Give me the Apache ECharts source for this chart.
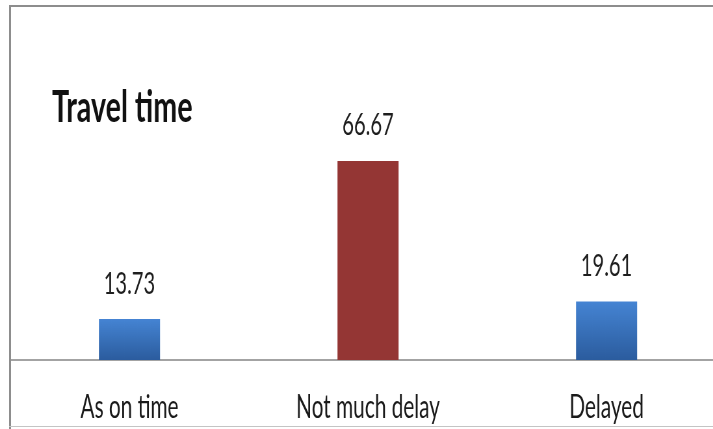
<!DOCTYPE html>
<html>
<head>
<meta charset="utf-8">
<script src="https://cdn.jsdelivr.net/npm/echarts@6/dist/echarts.min.js"></script>
<style>
  html, body { margin: 0; padding: 0; background: #ffffff; overflow: hidden; }
  #wrap {
    width: 713px; height: 429px; overflow: hidden; position: relative;
    background: #ffffff;
  }
  /* the chart is laid out wide and then squeezed horizontally, giving the tall narrow lettering */
  #chart { position: absolute; left: 0; top: 0; width: 1130px; height: 429px; transform: scaleX(0.65); transform-origin: 0 0; }
  /* plot frame: open on the right, as the chart area runs past the page edge */
  .edge { position: absolute; pointer-events: none; }
  #edgeTop { left: 9px; top: 5px; width: 704px; height: 2px; background: #8d8d8d; }
  #edgeLeft { left: 9px; top: 5px; width: 2px; height: 424px; background: #8d8d8d; }
  #edgeBottom { left: 9px; top: 426px; width: 704px; height: 1px; background: #c4c4c4; }
</style>
</head>
<body>
<div id="wrap">
  <div id="chart"></div>
  <div class="edge" id="edgeTop"></div>
  <div class="edge" id="edgeLeft"></div>
  <div class="edge" id="edgeBottom"></div>
</div>
<script>
const categories = ['As on time', 'Not much delay', 'Delayed'];
const values = [13.73, 66.67, 19.61];
const titleText = 'Travel time';

const blueFill = new echarts.graphic.LinearGradient(0, 0, 0, 1, [
  { offset: 0, color: '#4584d3' },
  { offset: 1, color: '#2b5c9e' }
]);
const redFill = '#943634';
const barColors = [blueFill, redFill, blueFill];

const chart = echarts.init(document.getElementById('chart'), null, { renderer: 'canvas' });

chart.setOption({
  animation: false,
  title: {
    text: titleText,
    left: 75,
    top: 81,
    textStyle: { fontFamily: 'Lato', fontWeight: 'bold', fontSize: 44, color: '#111111' }
  },
  grid: { left: 15.7, width: 1101, top: 61.5, bottom: 69, outerBoundsMode: 'none' },
  xAxis: {
    type: 'category',
    data: categories,
    axisLine: { show: true, lineStyle: { color: '#858585', width: 1.5 } },
    axisTick: { show: false },
    axisLabel: { margin: 32, fontFamily: 'Lato', fontSize: 32, color: '#1a1a1a' }
  },
  yAxis: { type: 'value', min: 0, max: 100, show: false },
  series: [{
    type: 'bar',
    data: values.map((v, i) => ({ value: v, itemStyle: { color: barColors[i] } })),
    barWidth: 94,
    label: {
      show: true, position: 'top', distance: 20,
      fontFamily: 'Lato', fontSize: 31, color: '#1e1e1e',
      formatter: p => p.value.toFixed(2)
    }
  }]
});
</script>
</body>
</html>
